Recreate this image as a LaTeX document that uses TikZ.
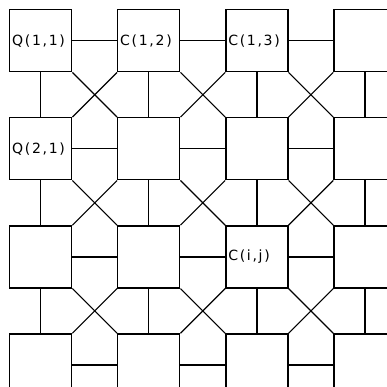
\documentclass[tikz,border=0pt]{standalone}
\usepackage{fontspec}
\setsansfont[LetterSpace=12]{DejaVu Sans}
\usetikzlibrary{positioning}

\begin{document}
\begin{tikzpicture}[
    node distance=11.17mm,
    cell/.style={draw, rectangle, line width=1pt, minimum height=15.5mm, text width=14.3mm,
      inner xsep=0.6mm, inner ysep=0pt, align=left, font=\sffamily\fontsize{10}{12}\selectfont},
    link/.style={line width=1pt},
    cross/.style={line width=0.8pt}
  ]
  \useasboundingbox (0,0) rectangle (96.75mm,-96.75mm);
  \clip (0,0) rectangle (96.75mm,-96.75mm);
  % Cells
  \node[cell, anchor=north west] (c11) at (2.25mm,-2.25mm) {Q(1,1)};
  \node[cell, right=of c11] (c12) {C(1,2)};
  \node[cell, right=of c12] (c13) {C(1,3)};
  \node[cell, right=of c13] (c14) {};

  \node[cell, below=of c11] (c21) {Q(2,1)};
  \node[cell, right=of c21] (c22) {};
  \node[cell, right=of c22] (c23) {};
  \node[cell, right=of c23] (c24) {};

  \node[cell, below=of c21] (c31) {};
  \node[cell, right=of c31] (c32) {};
  \node[cell, right=of c32] (c33) {C(i,j)};
  \node[cell, right=of c33] (c34) {};

  \node[cell, below=of c31] (c41) {};
  \node[cell, right=of c41] (c42) {};
  \node[cell, right=of c42] (c43) {};
  \node[cell, right=of c43] (c44) {};

  % Row links
  \foreach \r in {1,...,4}
    \foreach \c/\n in {1/2,2/3,3/4}
      \draw[link] (c\r\c) -- (c\r\n);
  % Column links
  \foreach \r/\s in {1/2,2/3,3/4}
    \foreach \c in {1,...,4}
      \draw[link] (c\r\c) -- (c\s\c);
  % Diagonal links
  \foreach \r/\s in {1/2,2/3,3/4}
    \foreach \c/\n in {1/2,2/3,3/4} {
      \draw[cross] (c\r\c.south east) -- (c\s\n.north west);
      \draw[cross] (c\r\n.south west) -- (c\s\c.north east);
    }
\end{tikzpicture}
\end{document}
